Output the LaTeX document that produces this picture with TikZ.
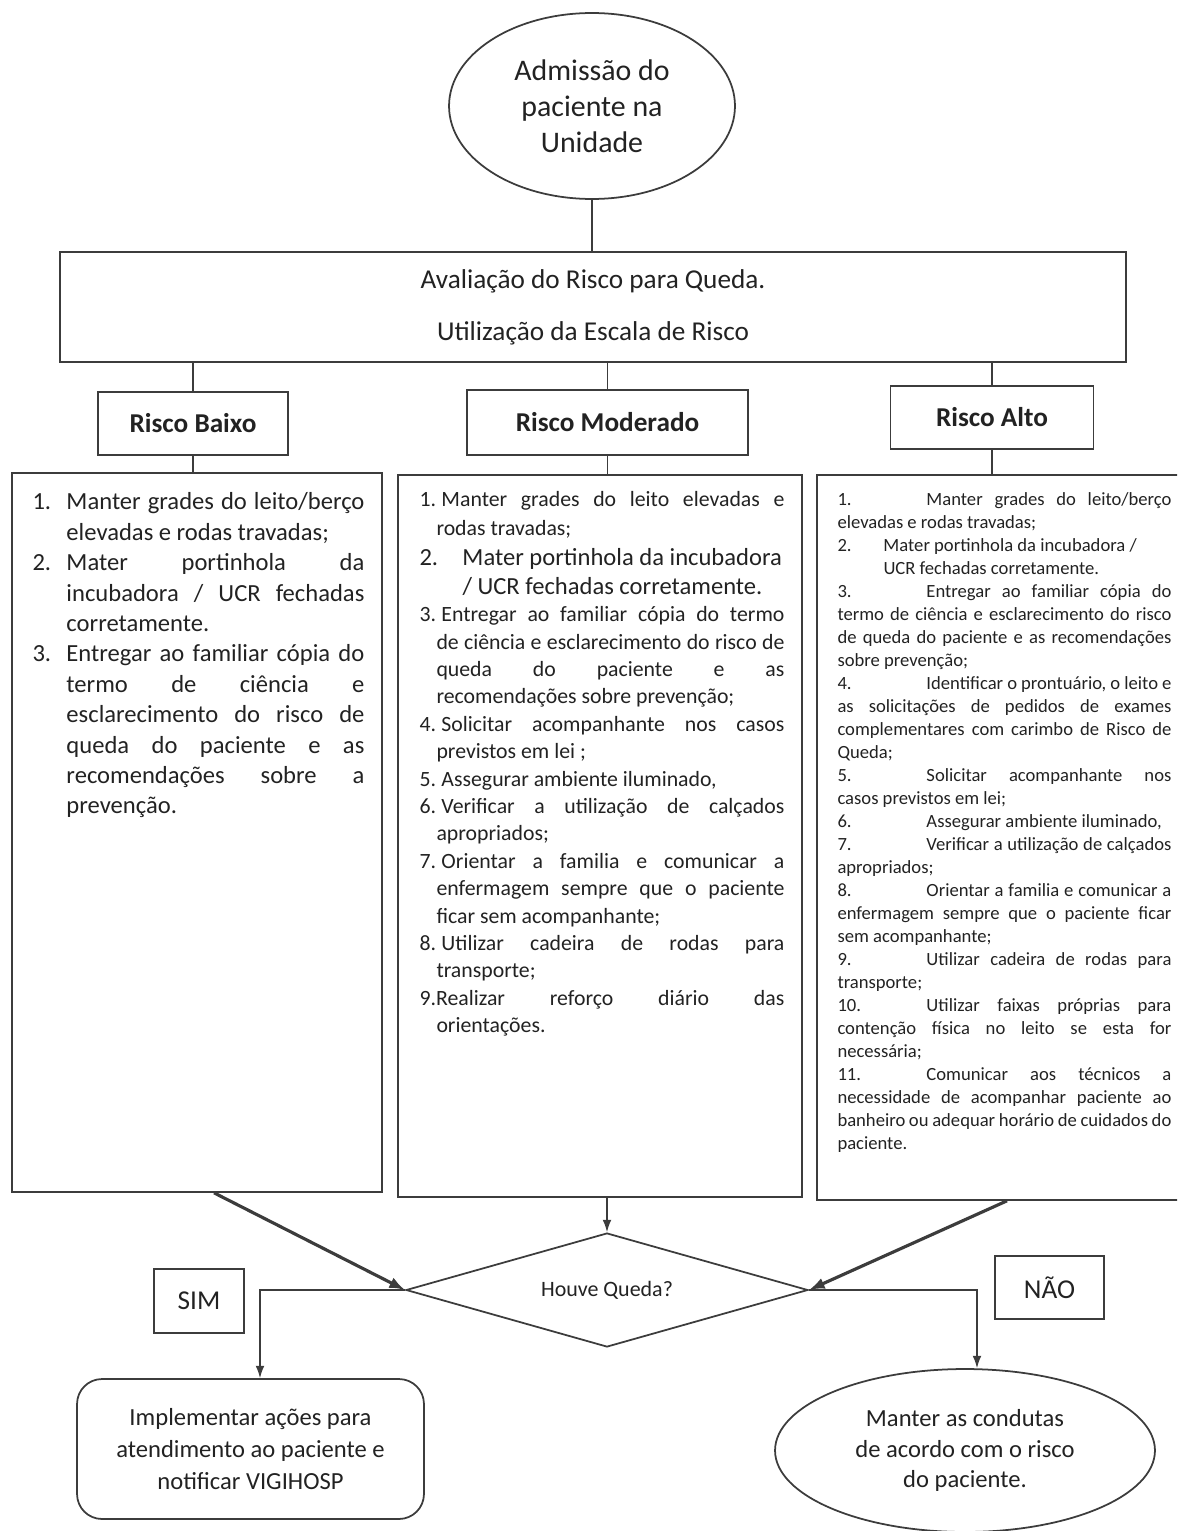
\documentclass[tikz,border=0pt]{standalone}
\usepackage{fontspec}
\setmainfont{Carlito}
\usetikzlibrary{shapes.geometric,arrows.meta}

\definecolor{linegray}{HTML}{3C3C3C}
\definecolor{textgray}{HTML}{222222}

% numbered item: hanging indent, width of the number box, number, text
\newcommand{\numitem}[4]{\par\noindent\hangindent=#1\hangafter=1\makebox[#2][l]{#3}#4}
% numbered item with a tab after the number
\newcommand{\tabitem}[3]{\par\noindent\makebox[#1][l]{#2}#3}

\begin{document}
\begin{tikzpicture}[x=0.02cm,y=-0.02cm]
		\tikzstyle{boxed}=[draw=linegray,line width=1pt,text=textgray,inner sep=0pt]
		\tikzstyle{riskbox}=[boxed,font=\fontsize{15.5}{18}\selectfont\bfseries]
		\tikzstyle{tagbox}=[boxed,font=\fontsize{15.5}{18}\selectfont]
		\tikzstyle{listtext}=[anchor=north west,inner sep=0pt,align=justify,text=textgray,
		execute at begin node={\tolerance=9999\hyphenpenalty=10000\emergencystretch=1em}]
		\tikzstyle{link}=[draw=linegray,line width=0.8pt]
		\tikzstyle{flow}=[link,-{Latex[length=7pt,width=5pt]}]
		\tikzstyle{bigflow}=[link,line width=1.8pt,-{Latex[length=9pt,width=6.5pt]}]
		
		\path[use as bounding box] (0,0) rectangle (1177,1531);
		\clip (0,0) rectangle (1177,1531);
		
		%% Admission and assessment
		\node [boxed,ellipse,minimum width=5.72cm,minimum height=3.72cm,align=center,
		font=\fontsize{17}{20.4}\selectfont] (admissao) at (592,106) {Admissão do\\paciente na\\Unidade};
		\node [boxed,minimum width=21.32cm,minimum height=2.2cm,align=center,
		font=\fontsize{15.5}{29.5}\selectfont] (avaliacao) at (593,307)
		{Avaliação do Risco para Queda.\\Utilização da Escala de Risco};
		
		%% Risk levels
		\node [riskbox,minimum width=3.8cm,minimum height=1.26cm] (baixo) at (193,423.5) {Risco Baixo};
		\node [riskbox,minimum width=5.62cm,minimum height=1.3cm] (moderado) at (607.5,422.5) {Risco Moderado};
		\node [riskbox,minimum width=4.06cm,minimum height=1.26cm] (alto) at (992,417.5) {Risco Alto};
		
		%% Lists of measures
		\node [boxed,minimum width=7.4cm,minimum height=14.38cm] (baixolist) at (197,832.5) {};
		\node [boxed,minimum width=8.08cm,minimum height=14.44cm] (modlist) at (600,836) {};
		\node [boxed,minimum width=7.36cm,minimum height=14.5cm] (altolist) at (1001,837.5) {};
		
		\node [listtext,text width=6.64cm,font=\fontsize{14}{17.3}\selectfont] (baixotext)
		at ([xshift=0.42cm,yshift=-0.14cm]baixolist.north west) {%
		\numitem{0.68cm}{0.68cm}{1.}{Manter grades do leito/berço\linebreak elevadas e rodas travadas;}
		\numitem{0.68cm}{0.68cm}{2.}{Mater portinhola da\linebreak incubadora / UCR fechadas\linebreak corretamente.}
		\numitem{0.68cm}{0.68cm}{3.}{Entregar ao familiar cópia do\linebreak termo de ciência e\linebreak
		esclarecimento do risco de\linebreak queda do paciente e as\linebreak recomendações sobre a\linebreak prevenção.}\par};
		
		\node [listtext,text width=7.3cm,font=\fontsize{12.4}{15.6}\selectfont] (modtext)
		at ([xshift=0.44cm,yshift=-0.06cm]modlist.north west) {%
		\numitem{0.34cm}{0.44cm}{1.}{Manter grades do leito elevadas e\linebreak rodas travadas;}
		{\fontsize{14}{16.6}\selectfont\numitem{0.86cm}{0.86cm}{2.}{Mater portinhola da incubadora\newline / UCR fechadas corretamente.}\par}
		\numitem{0.34cm}{0.44cm}{3.}{Entregar ao familiar cópia do termo\linebreak de ciência e esclarecimento do risco de\linebreak
		queda do paciente e as\linebreak recomendações sobre prevenção;}
		\numitem{0.34cm}{0.44cm}{4.}{Solicitar acompanhante nos casos\linebreak previstos em lei ;}
		\numitem{0.34cm}{0.44cm}{5.}{Assegurar ambiente iluminado,}
		\numitem{0.34cm}{0.44cm}{6.}{Verificar a utilização de calçados\linebreak apropriados;}
		\numitem{0.34cm}{0.44cm}{7.}{Orientar a familia e comunicar a\linebreak enfermagem sempre que o paciente\linebreak ficar sem acompanhante;}
		\numitem{0.34cm}{0.44cm}{8.}{Utilizar cadeira de rodas para\linebreak transporte;}
		\par\noindent\hangindent=0.34cm\hangafter=1 9.Realizar reforço diário das\linebreak orientações.\par};
		
		\node [listtext,text width=6.68cm,font=\fontsize{10.6}{13.1}\selectfont] (altotext)
		at ([xshift=0.42cm,yshift=-0.15cm]altolist.north west) {%
		\tabitem{1.78cm}{1.}{Manter grades do leito/berço\linebreak elevadas e rodas travadas;}
		\numitem{0.92cm}{0.92cm}{2.}{Mater portinhola da incubadora /\newline UCR fechadas corretamente.}
		\tabitem{1.78cm}{3.}{Entregar ao familiar cópia do\linebreak termo de ciência e esclarecimento do risco\linebreak
		de queda do paciente e as recomendações\linebreak sobre prevenção;}
		\tabitem{1.78cm}{4.}{Identificar o prontuário, o leito e\linebreak as solicitações de pedidos de exames\linebreak
		complementares com carimbo de Risco de\linebreak Queda;}
		\tabitem{1.78cm}{5.}{Solicitar acompanhante nos\linebreak casos previstos em lei;}
		\tabitem{1.78cm}{6.}{Assegurar ambiente iluminado,}
		\tabitem{1.78cm}{7.}{Verificar a utilização de calçados\linebreak apropriados;}
		\tabitem{1.78cm}{8.}{Orientar a familia e comunicar a\linebreak enfermagem sempre que o paciente ficar\linebreak sem acompanhante;}
		\tabitem{1.78cm}{9.}{Utilizar cadeira de rodas para\linebreak transporte;}
		\tabitem{1.78cm}{10.}{Utilizar faixas próprias para\linebreak contenção física no leito se esta for\linebreak necessária;}
		\tabitem{1.78cm}{11.}{Comunicar aos técnicos a\linebreak necessidade de acompanhar paciente ao\linebreak
		banheiro ou adequar horário de cuidados do\linebreak paciente.}\par};
		
		%% Decision and outcomes
		\node [boxed,diamond,aspect=3.5,minimum width=8.04cm,minimum height=2.28cm,
		font=\fontsize{12.5}{15}\selectfont] (queda) at (607,1290) {Houve Queda?};
		\node [tagbox,minimum width=1.8cm,minimum height=1.28cm] (sim) at (199,1301) {SIM};
		\node [tagbox,minimum width=2.18cm,minimum height=1.26cm] (nao) at (1049.5,1287.5) {NÃO};
		\node [boxed,rounded corners=0.5cm,minimum width=6.94cm,minimum height=2.8cm,align=center,
		font=\fontsize{14}{18.2}\selectfont] (acao) at (250.5,1449)
		{Implementar ações para\\atendimento ao paciente e\\notificar VIGIHOSP};
		\node [boxed,ellipse,minimum width=7.6cm,minimum height=3.26cm,align=center,
		font=\fontsize{14}{17.2}\selectfont] (manter) at (965,1450.5)
		{Manter as condutas\\de acordo com o risco\\do paciente.};
		
		%% Connectors
		\draw [link] (admissao.south) -- (admissao.south |- avaliacao.north);
		\foreach \risk in {baixo,moderado,alto}
		\draw [link] (avaliacao.south -| \risk.north) -- (\risk.north);
		\draw [link] (baixo.south) -- (baixo.south |- baixolist.north);
		\draw [link] (moderado.south) -- (moderado.south |- modlist.north);
		\draw [link] (alto.south) -- (alto.south |- altolist.north);
		
		\draw [bigflow] ([xshift=0.34cm]baixolist.south) -- (queda.west);
		\draw [bigflow] ([xshift=0.12cm]altolist.south) -- (queda.east);
		\draw [flow] (modlist.south -| queda.north) -- (queda.north);
		\draw [flow] (queda.west) -| ([xshift=0.19cm]acao.north);
		\draw [flow] (queda.east) -| ([xshift=0.24cm]manter.north);
		
\end{tikzpicture}
\end{document}
